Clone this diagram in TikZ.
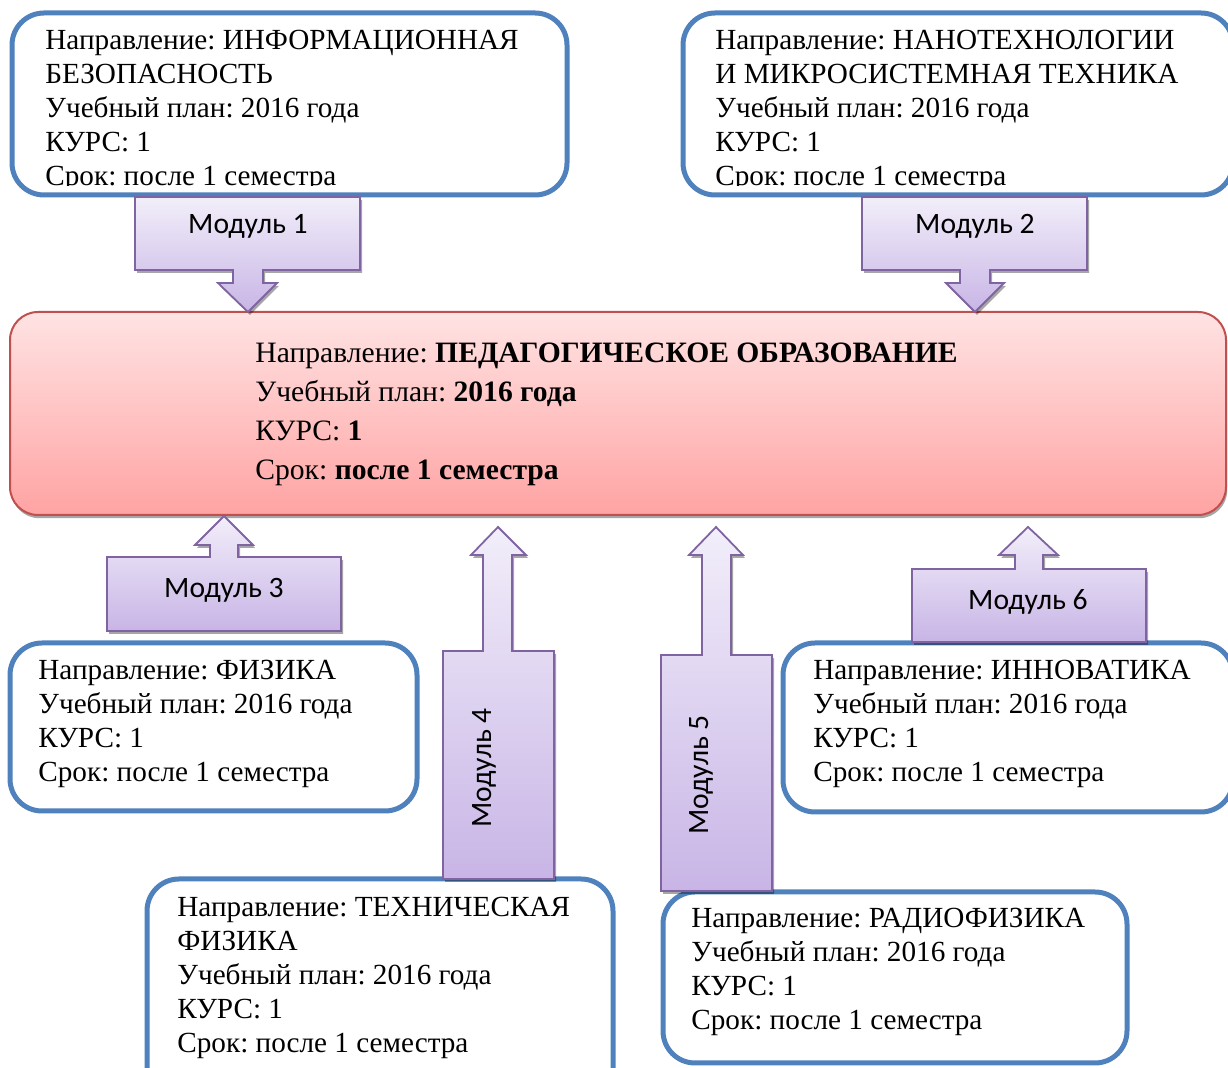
\documentclass[tikz,border=0pt]{standalone}
\usepackage{fontspec}
\setmainfont{Liberation Serif}
\newfontfamily\modfont{Carlito}
\usetikzlibrary{shadows}
\definecolor{boxblue}{HTML}{4F81BD}
\definecolor{mainred}{HTML}{C0504D}
\definecolor{maintop}{HTML}{FFE3E3}
\definecolor{mainbot}{HTML}{FFA3A3}
\definecolor{modborder}{HTML}{8064A2}
\definecolor{modtop}{HTML}{F2EEFA}
\definecolor{modbot}{HTML}{C8B5E6}
\frenchspacing
\begin{document}
\frenchspacing
\begin{tikzpicture}[x=0.5pt,y=-0.5pt,
  bluebox/.style={draw=boxblue, line width=2.5pt, rounded corners=16pt, fill=white},
  mainbox/.style={draw=mainred, line width=1pt, rounded corners=14pt, top color=maintop, bottom color=mainbot,
    drop shadow={shadow xshift=0.6pt, shadow yshift=-1.6pt, fill=black, opacity=0.35}},
  modshape/.style={draw=modborder, line width=0.9pt, top color=modtop, bottom color=modbot, line join=miter,
    drop shadow={shadow xshift=1pt, shadow yshift=-1.5pt, fill=black, opacity=0.35}},
  txt/.style={font=\fontsize{14.6}{17}\selectfont\frenchspacing, align=left, inner sep=0pt, anchor=north west},
  maintxt/.style={font=\fontsize{14.8}{19.5}\selectfont\frenchspacing, align=left, inner sep=0pt, anchor=north west},
  modlabel/.style={font=\modfont\fontsize{14.8}{17}\selectfont, inner sep=0pt}]
\path[use as bounding box, clip] (0,0) rectangle (1228,1068);

% top boxes
\path[bluebox] (12,13) rectangle (567,195);
\path[bluebox] (683,13) rectangle (1233,195);
\begin{scope}
\clip (0,0) rectangle (1228,186);
\node[txt] (t1) at (45,30) {Направление: ИНФОРМАЦИОННАЯ\\БЕЗОПАСНОСТЬ\\Учебный план: 2016 года\\КУРС: 1\\Срок: после 1 семестра};
\node[txt] (t2) at (715,30) {Направление: НАНОТЕХНОЛОГИИ\\И МИКРОСИСТЕМНАЯ ТЕХНИКА\\Учебный план: 2016 года\\КУРС: 1\\Срок: после 1 семестра};
\end{scope}

% main box
\path[mainbox] (10,312) rectangle (1226,515);
\node[maintxt] (mt) at (255,343) {Направление: \textbf{ПЕДАГОГИЧЕСКОЕ ОБРАЗОВАНИЕ}\\Учебный план: \textbf{2016 года}\\КУРС: \textbf{1}\\Срок: \textbf{после 1 семестра}};

% lower boxes
\path[bluebox] (10,643) rectangle (417,811);
\node[txt] (t3) at (38,660) {Направление: ФИЗИКА\\Учебный план: 2016 года\\КУРС: 1\\Срок: после 1 семестра};
\path[bluebox] (147,879) rectangle (613,1110);
\node[txt] (t4) at (177,897) {Направление: ТЕХНИЧЕСКАЯ\\ФИЗИКА\\Учебный план: 2016 года\\КУРС: 1\\Срок: после 1 семестра};
\path[bluebox] (783,643) rectangle (1233,812);
\node[txt] (t6) at (813,660) {Направление: ИННОВАТИКА\\Учебный план: 2016 года\\КУРС: 1\\Срок: после 1 семестра};
\path[bluebox] (663,892) rectangle (1127,1063);
\node[txt] (t5) at (691,908) {Направление: РАДИОФИЗИКА\\Учебный план: 2016 года\\КУРС: 1\\Срок: после 1 семестра};

% module arrows
\path[modshape] (135,197) -- (360,197) -- (360,270) -- (263,270) -- (263,283) -- (277,283) -- (248,312) -- (218,283) -- (233,283) -- (233,270) -- (135,270) -- cycle;
\node[modlabel] (m1) at (248,226) {Модуль 1};
\path[modshape] (862,197) -- (1087,197) -- (1087,270) -- (990,270) -- (990,283) -- (1004,283) -- (975,312) -- (946,283) -- (960,283) -- (960,270) -- (862,270) -- cycle;
\node[modlabel] (m2) at (975,226) {Модуль 2};
\path[modshape] (107,557) -- (210,557) -- (210,545) -- (195,545) -- (224,516) -- (253,545) -- (238,545) -- (238,557) -- (341,557) -- (341,631) -- (107,631) -- cycle;
\node[modlabel] (m3) at (224,590) {Модуль 3};
\path[modshape] (443,651) -- (483,651) -- (483,555) -- (471,555) -- (498,527) -- (526,555) -- (512,555) -- (512,651) -- (554,651) -- (554,879) -- (443,879) -- cycle;
\node[modlabel, rotate=90] (m4) at (484,768) {Модуль 4};
\path[modshape] (661,655) -- (702,655) -- (702,555) -- (689,555) -- (716,527) -- (743,555) -- (731,555) -- (731,655) -- (772,655) -- (772,891) -- (661,891) -- cycle;
\node[modlabel, rotate=90] (m5) at (701,775) {Модуль 5};
\path[modshape] (912,569) -- (1015,569) -- (1015,555) -- (999,555) -- (1028,527) -- (1058,555) -- (1043,555) -- (1043,569) -- (1146,569) -- (1146,642) -- (912,642) -- cycle;
\node[modlabel] (m6) at (1028,602) {Модуль 6};
\end{tikzpicture}
\end{document}
